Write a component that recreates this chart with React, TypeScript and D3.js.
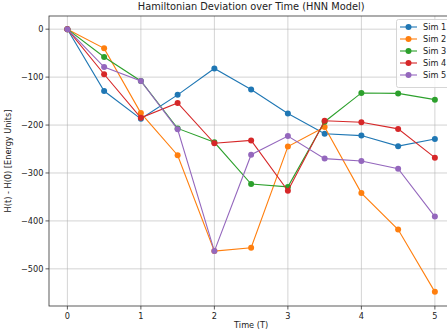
import React from "react";
import * as d3 from "d3";

const times = [0, 0.5, 1, 1.5, 2, 2.5, 3, 3.5, 4, 4.5, 5];
const sim1 = [0, -129, -187, -137, -82, -126, -176, -218, -222, -244, -229];
const sim2 = [0, -40, -175, -263, -463, -456, -245, -204, -342, -418, -548];
const sim3 = [0, -58, -108, -207, -236, -323, -329, -193, -133, -134, -147];
const sim4 = [0, -94, -185, -154, -238, -232, -337, -191, -194, -208, -268];
const sim5 = [0, -79, -108, -209, -463, -262, -223, -270, -275, -291, -391];
const seriesNames = ["Sim 1", "Sim 2", "Sim 3", "Sim 4", "Sim 5"];
const seriesValues = [sim1, sim2, sim3, sim4, sim5];
const colors = ["#1f77b4", "#ff7f0e", "#2ca02c", "#d62728", "#9467bd"];
const xTicks = [0, 1, 2, 3, 4, 5];
const yTicks = [0, -100, -200, -300, -400, -500];

const W = 447;
const H = 330;
const left = 49;
const top = 16;
const bottom = 306;

export default function App() {
  const x = d3.scaleLinear().domain([-0.25, 5.25]).range([left, left + 5.5 * 73.5]);
  const y = d3.scaleLinear().domain([27.5, -577.5]).range([top, bottom]);
  const right = x(5.25);
  const line = d3
    .line<number>()
    .x((_, i) => x(times[i]))
    .y((d) => y(d));
  const font = "DejaVu Sans, sans-serif";
  const fmt = (v: number) => (v < 0 ? "\u2212" + Math.abs(v) : String(v));
  return (
    <svg
      width={W}
      height={H}
      style={{ position: "absolute", left: 0, top: 0, background: "#fff" }}
      fontFamily={font}
    >
      <rect x={0} y={0} width={W} height={H} fill="#fff" />
      {xTicks.map((t) => (
        <line key={"gx" + t} x1={x(t)} x2={x(t)} y1={top} y2={bottom} stroke="#b0b0b0" strokeOpacity={0.7} strokeWidth={0.8} />
      ))}
      {yTicks.map((t) => (
        <line key={"gy" + t} x1={left} x2={right} y1={y(t)} y2={y(t)} stroke="#b0b0b0" strokeOpacity={0.7} strokeWidth={0.8} />
      ))}
      {seriesValues.map((vals, si) => (
        <g key={seriesNames[si]}>
          <path d={line(vals) || ""} fill="none" stroke={colors[si]} strokeWidth={1.1} />
          {vals.map((v, i) => (
            <circle key={i} cx={x(times[i])} cy={y(v)} r={3} fill={colors[si]} />
          ))}
        </g>
      ))}
      <rect x={left} y={top} width={right - left} height={bottom - top} fill="none" stroke="#333" strokeWidth={0.8} />
      {xTicks.map((t) => (
        <g key={"tx" + t}>
          <line x1={x(t)} x2={x(t)} y1={bottom} y2={bottom + 3.5} stroke="#333" strokeWidth={0.8} />
          <text x={x(t)} y={bottom + 12.5} fontSize={8.2} textAnchor="middle" fill="#222">
            {fmt(t)}
          </text>
        </g>
      ))}
      {yTicks.map((t) => (
        <g key={"ty" + t}>
          <line x1={left - 3.5} x2={left} y1={y(t)} y2={y(t)} stroke="#333" strokeWidth={0.8} />
          <text x={left - 5.5} y={y(t) + 3} fontSize={8.2} textAnchor="end" fill="#222">
            {fmt(t)}
          </text>
        </g>
      ))}
      <text x={(left + right) / 2} y={9.5} fontSize={9.8} textAnchor="middle" fill="#222">
        Hamiltonian Deviation over Time (HNN Model)
      </text>
      <text x={(left + right) / 2} y={328} fontSize={8.2} textAnchor="middle" fill="#222">
        Time (T)
      </text>
      <text
        transform={`translate(11,${(top + bottom) / 2}) rotate(-90)`}
        fontSize={8.2}
        textAnchor="middle"
        fill="#222"
      >
        H(t) - H(0) [Energy Units]
      </text>
      <g>
        <rect x={396.5} y={19.5} width={60} height={68} rx={2} fill="#fff" fillOpacity={0.8} stroke="#ccc" strokeWidth={0.8} />
        {seriesNames.map((n, i) => (
          <g key={"lg" + n} transform={`translate(0,${27 + i * 12})`}>
            <line x1={400} x2={417} y1={0} y2={0} stroke={colors[i]} strokeWidth={1.1} />
            <circle cx={408.5} cy={0} r={3} fill={colors[i]} />
            <text x={423} y={3} fontSize={8.2} fill="#222">
              {n}
            </text>
          </g>
        ))}
      </g>
    </svg>
  );
}
